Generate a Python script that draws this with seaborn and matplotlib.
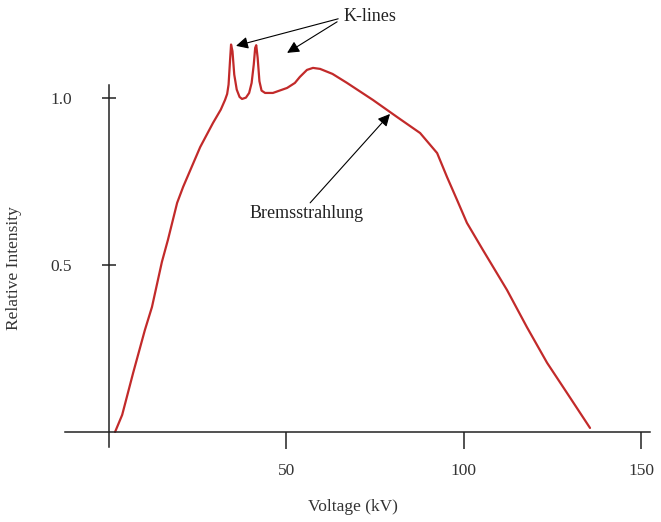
import matplotlib
matplotlib.use("Agg")
import matplotlib.pyplot as plt
import seaborn as sns
import pandas as pd

# spectrum (voltage in kV, relative intensity)
voltage = [1.7, 3.7, 6.8, 10.1, 12.1, 14.9, 16.6, 19.2, 20.9, 25.7, 29.3, 31.5, 32.7,
           33.3, 33.7, 34.1, 34.4, 34.8, 35.3, 36.0, 36.8, 37.5, 38.6, 39.5, 40.2,
           40.8, 41.2, 41.5, 41.9, 42.4, 43.0, 44.0, 46.2, 50.2, 52.4, 53.8, 55.8,
           57.5, 59.5, 63.0, 67.1, 74.4, 81.2, 87.7, 92.5, 95.3, 98.1, 100.9, 105.4,
           112.2, 117.8, 123.5, 129.1, 135.6]
intensity = [0.0, 0.051, 0.177, 0.305, 0.374, 0.509, 0.575, 0.686, 0.734, 0.853, 0.925, 0.965, 0.994,
             1.012, 1.040, 1.110, 1.160, 1.140, 1.070, 1.025, 1.003, 0.997, 1.001, 1.015, 1.045,
             1.100, 1.150, 1.158, 1.120, 1.050, 1.022, 1.015, 1.015, 1.030, 1.045, 1.063, 1.084,
             1.090, 1.087, 1.072, 1.045, 0.994, 0.943, 0.895, 0.835, 0.763, 0.695, 0.626, 0.545,
             0.425, 0.314, 0.207, 0.117, 0.012]

x_ticks = [50, 100, 150]
x_tick_labels = ["50", "100", "150"]
y_ticks = [0.5, 1.0]
y_tick_labels = ["0.5", "1.0"]

df = pd.DataFrame({"voltage": voltage, "intensity": intensity})

sns.set_theme(style="white")
plt.rcParams["font.family"] = ["Liberation Serif", "DejaVu Serif"]

fig = plt.figure(figsize=(6.61, 5.22), dpi=100)
ax = fig.add_axes([0.0952, 0.1341, 0.9015, 0.8574])

sns.lineplot(data=df, x="voltage", y="intensity", sort=False, color="#c22a2a",
             lw=1.6, ax=ax)

ax.set_xlim(-13, 155)
ax.set_ylim(-0.06, 1.28)

# axes drawn as plain crossing lines
for side in ["top", "right"]:
    ax.spines[side].set_visible(False)
ax.spines["left"].set_position(("data", 0))
ax.spines["bottom"].set_position(("data", 0))
ax.spines["left"].set_bounds(-0.045, 1.039)
ax.spines["bottom"].set_bounds(-12.4, 152.5)
for side in ["left", "bottom"]:
    ax.spines[side].set_color("#222222")
    ax.spines[side].set_linewidth(1.1)

ax.set_xticks(x_ticks)
ax.set_xticklabels(x_tick_labels)
ax.set_yticks(y_ticks)
ax.set_yticklabels(y_tick_labels)
ax.tick_params(axis="x", direction="out", length=12, width=1.1, color="#222222",
               pad=10, labelsize=12.5, labelcolor="#333333", bottom=True)
ax.tick_params(axis="y", direction="inout", length=9.5, width=1.1, color="#222222",
               pad=22, labelsize=12.5, labelcolor="#333333", left=True)

ax.set_xlabel("Voltage (kV)", fontsize=12.5, color="#333333")
ax.xaxis.set_label_coords(0.487, -0.105)
ax.set_ylabel("Relative Intensity", fontsize=12.5, color="#333333")
ax.yaxis.set_label_coords(-0.068, 0.41)

arrow = dict(arrowstyle="-|>", color="black", lw=0.8, mutation_scale=18,
             shrinkA=0, shrinkB=0)
ax.text(73.6, 1.243, "K-lines", fontsize=13, ha="center", va="center", color="#222222")
ax.annotate("", xy=(35.8, 1.156), xytext=(64.6, 1.237), arrowprops=arrow)
ax.annotate("", xy=(50.2, 1.135), xytext=(64.3, 1.228), arrowprops=arrow)
ax.annotate("", xy=(79.2, 0.952), xytext=(56.7, 0.686), arrowprops=arrow)
ax.text(55.8, 0.653, "Bremsstrahlung", fontsize=13, ha="center", va="center",
        color="#222222")

fig.savefig("out.png", dpi=100)
